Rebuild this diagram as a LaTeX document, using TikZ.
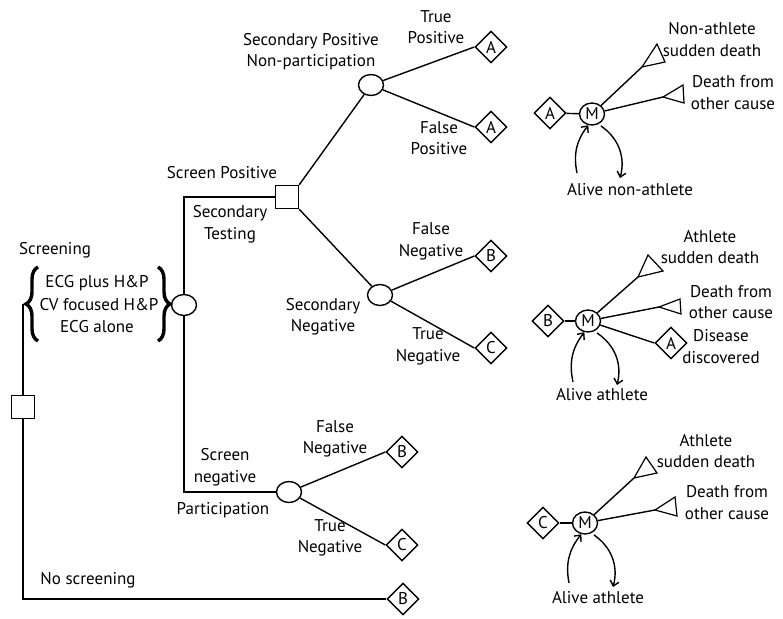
\documentclass[tikz,border=0pt]{standalone}
\usepackage{fontspec}
\setmainfont{PT Sans}
\usetikzlibrary{shapes.geometric,arrows.meta,decorations.pathreplacing}
\begin{document}
\begin{tikzpicture}[x=1pt,y=-1pt,
  every node/.style={font=\fontsize{17}{21.5}\selectfont, align=center, inner sep=0pt},
  ln/.style={line width=1.4pt},
  dec/.style={draw, line width=1.4pt, minimum size=23pt, inner sep=0pt},
  chance/.style={draw, ellipse, line width=1.4pt, minimum width=25pt, minimum height=21pt, inner sep=0pt},
  term/.style={draw, diamond, line width=1.4pt, minimum width=32pt, minimum height=32pt, inner sep=0pt},
  mk/.style={draw, ellipse, line width=1.4pt, minimum width=25pt, minimum height=22pt, inner sep=0pt},
  arr/.style={line width=1.4pt, -{Straight Barb[length=5pt,width=9pt]}},
  tri/.style={line width=1.2pt, line join=miter},
  brc/.style={decorate, decoration={brace, amplitude=12pt}, line width=3.4pt}
]
\useasboundingbox (0,0) rectangle (783,618);

% ---- main tree ----
\node[dec] (s0) at (23,407) {};
\node[chance] (c0) at (184,305) {};
\node[dec] (s1) at (287,197) {};
\node[chance] (c1) at (371,85) {};
\node[chance] (c2) at (380,295) {};
\node[chance] (c3) at (289,492) {};
\node[term] (a1) at (491,47) {A};
\node[term] (a2) at (491,127) {A};
\node[term] (b1) at (491,256) {B};
\node[term] (cc1) at (491,348) {C};
\node[term] (b2) at (402,452) {B};
\node[term] (cc2) at (402,545) {C};
\node[term] (b3) at (403,599) {B};

\coordinate (ltip) at (23,304);
\coordinate (bl) at (23,599);
\coordinate (ct) at (184,197);
\coordinate (cb) at (184,492);

\draw[ln] (ltip) -- (s0) -- (bl) -- (b3.west);
\draw[ln] (c0) -- (ct) -- (s1);
\draw[ln] (c0) -- (cb) -- (c3);
\draw[ln] (s1.north east) -- (c1);
\draw[ln] (s1.south east) -- (c2);
\draw[ln] (c1) -- (a1.west);
\draw[ln] (c1) -- (a2.west);
\draw[ln] (c2) -- (b1.west);
\draw[ln] (c2) -- (cc1.west);
\draw[ln] (c3) -- (b2.west);
\draw[ln] (c3) -- (cc2.west);

% braces
\draw[brc] (38,341) -- (38,267);
\draw[brc] (158,267) -- (158,341);

% labels
\node (lscr) at (55,250) {Screening};
\node (l1) at (97,283) {ECG plus H\&P};
\node (l2) at (99,305) {CV focused H\&P};
\node (l3) at (97,327) {ECG alone};
\node (lsp) at (222,173) {Screen Positive};
\node (lst) at (230,224) {Secondary\\Testing};
\node (lspn) at (311,51.5) {Secondary Positive\\Non-participation};
\node (ltp) at (436,27) {True\\Positive};
\node (lfp) at (439,138) {False\\Positive};
\node (lfn1) at (431,241.5) {False\\Negative};
\node (lsn) at (323,316.5) {Secondary\\Negative};
\node (ltn1) at (428,346.5) {True\\Negative};
\node (lsng) at (225,467) {Screen\\negative};
\node (lpar) at (223,510) {Participation};
\node (lfn2) at (335,439) {False\\Negative};
\node (ltn2) at (330,538) {True\\Negative};
\node (lns) at (88,580) {No screening};

% ---- Markov motif 1 ----
\node[term] (ma) at (550,113) {A};
\node[mk] (m1) at (592,114) {M};
\draw[ln] (ma) -- (m1);
\coordinate (t11) at (642,67);
\coordinate (t12) at (663,97);
\draw[tri] (t11) -- (657,44) -- (665,62) -- cycle;
\draw[tri] (t12) -- (683,85) -- (684,103) -- cycle;
\draw[ln] (m1) -- (t11);
\draw[ln] (m1) -- (t12);
\coordinate (p1s) at (577,173);
\coordinate (p1e) at (620,178);
\draw[arr] (p1s) to[bend left=25] (m1.252);
\draw[arr] ([shift={(2pt,-2pt)}]m1.305) to[bend left=35] (p1e);
\node (n11) at (712,39.5) {Non-athlete\\sudden death};
\node (n12) at (733,92.5) {Death from\\other cause};
\node (n13) at (630,190) {Alive non-athlete};

% ---- Markov motif 2 ----
\node[term] (mb) at (548,321) {B};
\node[mk] (m2) at (588,321) {M};
\node[term] (md) at (671,343) {A};
\draw[ln] (mb) -- (m2);
\coordinate (t21) at (638,277);
\coordinate (t22) at (659,307);
\draw[tri] (t21) -- (648,255) -- (663,271) -- cycle;
\draw[tri] (t22) -- (680,299) -- (681,314) -- cycle;
\draw[ln] (m2) -- (t21);
\draw[ln] (m2) -- (t22);
\draw[ln] (m2) -- (md.west);
\coordinate (p2s) at (573,382);
\coordinate (p2e) at (617,385);
\draw[arr] (p2s) to[bend left=25] (m2.252);
\draw[arr] ([shift={(2pt,-2pt)}]m2.305) to[bend left=35] (p2e);
\node (n21) at (710,247) {Athlete\\sudden death};
\node (n22) at (731,302) {Death from\\other cause};
\node (n23) at (721,346.5) {Disease\\discovered};
\node (n24) at (602,395) {Alive athlete};

% ---- Markov motif 3 ----
\node[term] (mc) at (543,523) {C};
\node[mk] (m3) at (585,523) {M};
\draw[ln] (mc) -- (m3);
\coordinate (t31) at (634,478);
\coordinate (t32) at (655,510);
\draw[tri] (t31) -- (646,457) -- (657,473) -- cycle;
\draw[tri] (t32) -- (675,497) -- (677,516) -- cycle;
\draw[ln] (m3) -- (t31);
\draw[ln] (m3) -- (t32);
\coordinate (p3s) at (569,583);
\coordinate (p3e) at (613,587);
\draw[arr] (p3s) to[bend left=25] (m3.252);
\draw[arr] ([shift={(2pt,-2pt)}]m3.305) to[bend left=35] (p3e);
\node (n31) at (706,451) {Athlete\\sudden death};
\node (n32) at (727,502.5) {Death from\\other cause};
\node (n33) at (598,598) {Alive athlete};
\end{tikzpicture}
\end{document}
